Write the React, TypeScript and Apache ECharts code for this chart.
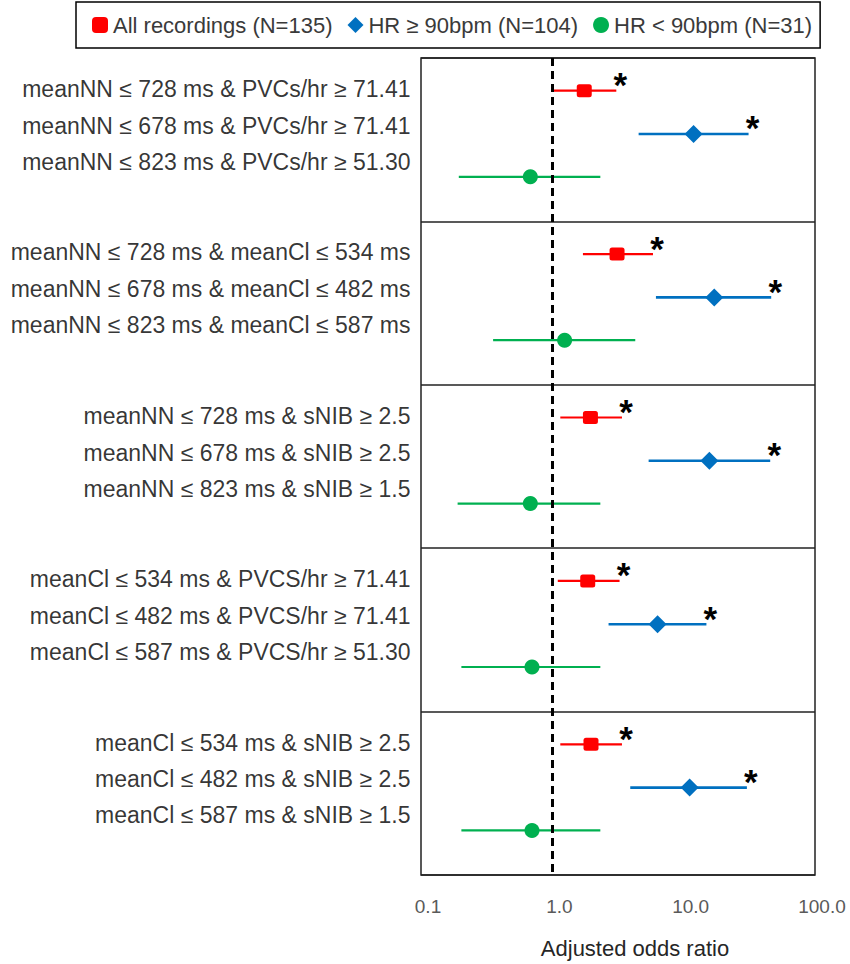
import React, { useEffect, useRef } from 'react';
import * as echarts from 'echarts';

const FONT = "'Liberation Sans', Arial, sans-serif";

const rowLabels = [
  'meanNN ≤ 728 ms & PVCs/hr ≥ 71.41',
  'meanNN ≤ 678 ms & PVCs/hr ≥ 71.41',
  'meanNN ≤ 823 ms & PVCs/hr ≥ 51.30',
  'meanNN ≤ 728 ms & meanCl ≤ 534 ms',
  'meanNN ≤ 678 ms & meanCl ≤ 482 ms',
  'meanNN ≤ 823 ms & meanCl ≤ 587 ms',
  'meanNN ≤ 728 ms & sNIB ≥ 2.5',
  'meanNN ≤ 678 ms & sNIB ≥ 2.5',
  'meanNN ≤ 823 ms & sNIB ≥ 1.5',
  'meanCl ≤ 534 ms & PVCS/hr ≥ 71.41',
  'meanCl ≤ 482 ms & PVCS/hr ≥ 71.41',
  'meanCl ≤ 587 ms & PVCS/hr ≥ 51.30',
  'meanCl ≤ 534 ms & sNIB ≥ 2.5',
  'meanCl ≤ 482 ms & sNIB ≥ 2.5',
  'meanCl ≤ 587 ms & sNIB ≥ 1.5',
];

const groupNames = ['All recordings (N=135)', 'HR ≥ 90bpm (N=104)', 'HR < 90bpm (N=31)'];

const allPoint = [1.75, 3.11, 1.95, 1.86, 1.97];
const allLow = [1.02, 1.71, 1.15, 1.1, 1.15];
const allHigh = [3.07, 5.84, 3.39, 3.25, 3.39];
const allSig = [1, 1, 1, 1, 1];

const hiPoint = [11.9, 17.1, 15.7, 6.33, 11.1];
const hiLow = [4.54, 6.15, 5.41, 2.68, 3.92];
const hiHigh = [31.2, 46.4, 45.6, 14.9, 30.3];
const hiSig = [1, 1, 1, 1, 1];

const loPoint = [0.68, 1.24, 0.68, 0.7, 0.7];
const loLow = [0.194, 0.354, 0.19, 0.203, 0.203];
const loHigh = [2.32, 4.28, 2.32, 2.32, 2.32];
const loSig = [0, 0, 0, 0, 0];

const xTicks = [0.1, 1, 10, 100];

const colors = ['#FF0000', '#0070C0', '#00B050'];
const shapes = ['square', 'diamond', 'circle'];
const legendIcons = ['roundRect', 'diamond', 'circle'];
const rowOffsets = [0.2, 0.465, 0.727];
const labelOffsets = [0.19, 0.415, 0.635];

export default function App() {
  const ref = useRef<HTMLDivElement>(null);
  useEffect(() => {
    if (!ref.current) return;
    const chart = echarts.init(ref.current, null, { renderer: 'svg' });
    const groups = [
      { point: allPoint, low: allLow, high: allHigh, sig: allSig },
      { point: hiPoint, low: hiLow, high: hiHigh, sig: hiSig },
      { point: loPoint, low: loLow, high: loHigh, sig: loSig },
    ];
    const groupSeries = groups.map((g, gi) => ({
      type: 'custom',
      name: groupNames[gi],
      coordinateSystem: 'cartesian2d',
      itemStyle: { color: colors[gi] },
      encode: { x: [0, 1, 2], y: 3 },
      z: 5,
      data: g.point.map((p, i) => [p, g.low[i], g.high[i], i + rowOffsets[gi], g.sig[i]]),
      renderItem: (params: any, api: any) => {
        const y = api.value(3);
        const pP = api.coord([api.value(0), y]);
        const pL = api.coord([api.value(1), y]);
        const pH = api.coord([api.value(2), y]);
        const color = colors[gi];
        const children: any[] = [
          {
            type: 'line',
            shape: { x1: pL[0], y1: pL[1], x2: pH[0], y2: pH[1] },
            style: { stroke: color, lineWidth: gi === 1 ? 2.6 : 2.2 },
          },
        ];
        const shape = shapes[gi];
        if (shape === 'square') {
          children.push({
            type: 'rect',
            shape: { x: pP[0] - 7.5, y: pP[1] - 6.5, width: 15, height: 13, r: 2.5 },
            style: { fill: color },
          });
        } else if (shape === 'diamond') {
          const s = 9;
          children.push({
            type: 'polygon',
            shape: {
              points: [
                [pP[0], pP[1] - s],
                [pP[0] + s, pP[1]],
                [pP[0], pP[1] + s],
                [pP[0] - s, pP[1]],
              ],
            },
            style: { fill: color },
          });
        } else {
          children.push({
            type: 'circle',
            shape: { cx: pP[0], cy: pP[1], r: 7.5 },
            style: { fill: color },
          });
        }
        if (api.value(4)) {
          children.push({
            type: 'text',
            x: pH[0] + 4,
            y: pH[1] - 6,
            style: {
              text: '*',
              fill: '#000',
              font: `bold 35px ${FONT}`,
              align: 'center',
              verticalAlign: 'middle',
            },
          });
        }
        return { type: 'group', children };
      },
    }));

    const option: any = {
      animation: false,
      textStyle: { fontFamily: FONT },
      legend: {
        left: 76,
        top: 2,
        data: groupNames.map((n, i) => ({ name: n, icon: legendIcons[i] })),
        itemWidth: 16,
        itemHeight: 16,
        itemGap: 15,
        borderColor: '#000',
        borderWidth: 1.5,
        padding: [12, 8, 12, 16],
        selectedMode: false,
        textStyle: { fontSize: 22, color: '#3a3a3a', fontFamily: FONT },
      },
      grid: {
        left: 421,
        right: 35,
        top: 58,
        bottom: 84,
        show: true,
        borderColor: '#222',
        borderWidth: 1.5,
        backgroundColor: 'transparent',
      },
      xAxis: {
        type: 'log',
        logBase: 10,
        min: xTicks[0],
        max: xTicks[xTicks.length - 1],
        axisLine: { show: false },
        axisTick: { show: false },
        splitLine: { show: false },
        axisLabel: {
          margin: 22,
          fontSize: 19,
          color: '#5a5a5a',
          fontFamily: FONT,
          padding: [0, 0, 0, 14],
          formatter: (v: number) => Number(v).toFixed(1),
        },
        name: 'Adjusted odds ratio',
        nameLocation: 'middle',
        nameGap: 62,
        nameTextStyle: { fontSize: 22, color: '#262626', fontFamily: FONT, padding: [0, 0, 0, 34] },
      },
      yAxis: {
        type: 'value',
        inverse: true,
        min: 0,
        max: 5,
        interval: 1,
        axisLine: { show: false },
        axisTick: { show: false },
        axisLabel: { show: false },
        splitLine: { show: true, lineStyle: { color: '#222', width: 1.5 } },
      },
      series: [
        {
          type: 'scatter',
          name: 'labels',
          symbolSize: 1,
          silent: true,
          itemStyle: { color: 'rgba(0,0,0,0)' },
          data: rowLabels.map((t, k) => ({
            name: t,
            value: [xTicks[0], Math.floor(k / 3) + labelOffsets[k % 3]],
          })),
          label: {
            show: true,
            position: 'left',
            distance: 10,
            formatter: '{b}',
            fontSize: 23,
            color: '#000',
            fontFamily: FONT,
          },
          markLine: {
            silent: true,
            symbol: ['none', 'none'],
            label: { show: false },
            lineStyle: { color: '#000', type: [8, 5], width: 3 },
            data: [{ xAxis: 1 }],
            z: 10,
          },
        },
        ...groupSeries,
      ],
    };
    chart.setOption(option);
    return () => chart.dispose();
  }, []);
  return (
    <div
      ref={ref}
      style={{ position: 'fixed', left: 0, top: 0, width: 850, height: 964, background: '#fff' }}
    />
  );
}
